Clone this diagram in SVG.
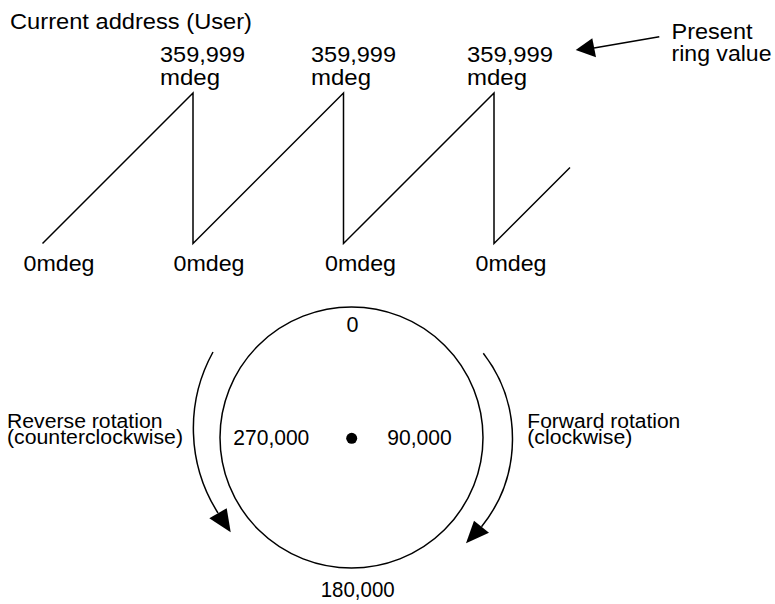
<svg xmlns="http://www.w3.org/2000/svg" width="775" height="604" viewBox="0 0 775 604">
<style>
text{font-family:"Liberation Sans",Arial,sans-serif;fill:#000}
.t{font-size:22.5px}
.b{font-size:21.5px}
.s{font-size:19.5px}
.ln{fill:none;stroke:#000;stroke-width:1.5}
.ah{fill:#000;stroke:none}
</style>
<rect width="775" height="604" fill="#fff"/>
<g id="title"><text class="t" x="10" y="28.5" font-size="22" textLength="242" lengthAdjust="spacingAndGlyphs">Current address (User)</text></g>
<g id="waveform">
<polyline class="ln" points="42.5,243.5 193,93 193,243.5 343.5,93 343.5,243.5 494,93 494,243.5 570,167.5"/>
</g>
<g id="peak-labels">
<text class="t" x="160" y="61.5" textLength="85" lengthAdjust="spacingAndGlyphs">359,999</text>
<text class="t" x="160" y="84.5" textLength="60" lengthAdjust="spacingAndGlyphs">mdeg</text>
<text class="t" x="311" y="61.5" textLength="85" lengthAdjust="spacingAndGlyphs">359,999</text>
<text class="t" x="311" y="84.5" textLength="60" lengthAdjust="spacingAndGlyphs">mdeg</text>
<text class="t" x="467" y="61.5" textLength="86" lengthAdjust="spacingAndGlyphs">359,999</text>
<text class="t" x="467" y="84.5" textLength="60" lengthAdjust="spacingAndGlyphs">mdeg</text>
</g>
<g id="zero-labels">
<text class="t" x="23.5" y="271" textLength="71" lengthAdjust="spacingAndGlyphs">0mdeg</text>
<text class="t" x="173.5" y="271" textLength="71" lengthAdjust="spacingAndGlyphs">0mdeg</text>
<text class="t" x="325" y="271" textLength="71" lengthAdjust="spacingAndGlyphs">0mdeg</text>
<text class="t" x="475.5" y="271" textLength="71" lengthAdjust="spacingAndGlyphs">0mdeg</text>
</g>
<g id="present-label">
<text class="b" x="671.5" y="39.3" textLength="81" lengthAdjust="spacingAndGlyphs">Present</text>
<text class="b" x="671.5" y="60.5" textLength="100" lengthAdjust="spacingAndGlyphs">ring value</text>
</g>
<g id="ring">
<ellipse class="ln" cx="351.5" cy="437.5" rx="131.5" ry="130.5"/>
<circle cx="351.7" cy="438.3" r="5.5" fill="#000"/>
<text class="b" x="346.5" y="331.7">0</text>
<text class="b" x="387.3" y="444.5" textLength="64.4" lengthAdjust="spacingAndGlyphs">90,000</text>
<text class="b" x="233.3" y="444.5" textLength="76" lengthAdjust="spacingAndGlyphs">270,000</text>
<text class="b" x="320.7" y="596.5" textLength="74" lengthAdjust="spacingAndGlyphs">180,000</text>
</g>
<g id="reverse-label">
<text class="s" x="7" y="428.3" textLength="155.5" lengthAdjust="spacingAndGlyphs">Reverse rotation</text>
<text class="s" x="7" y="444.3" textLength="176" lengthAdjust="spacingAndGlyphs">(counterclockwise)</text>
</g>
<g id="forward-label">
<text class="s" x="527.3" y="428.3" textLength="153" lengthAdjust="spacingAndGlyphs">Forward rotation</text>
<text class="s" x="527.3" y="444.3" textLength="105" lengthAdjust="spacingAndGlyphs">(clockwise)</text>
</g>
<g id="connectors">
<path class="ln" d="M659.3,36.7 L594,48"/>
<polygon class="ah" points="575.7,50 592.3,38.3 596,57.3"/>
<path class="ln" d="M213,352 A158,158 0 0 0 218,513"/>
<polygon class="ah" points="230.7,532.3 209.3,518.3 226.7,508.3"/>
<path class="ln" d="M483.3,353.3 A140,140 0 0 1 481.5,526.7"/>
<polygon class="ah" points="466,543.3 474,520.7 489,532.7"/>
</g>
</svg>
